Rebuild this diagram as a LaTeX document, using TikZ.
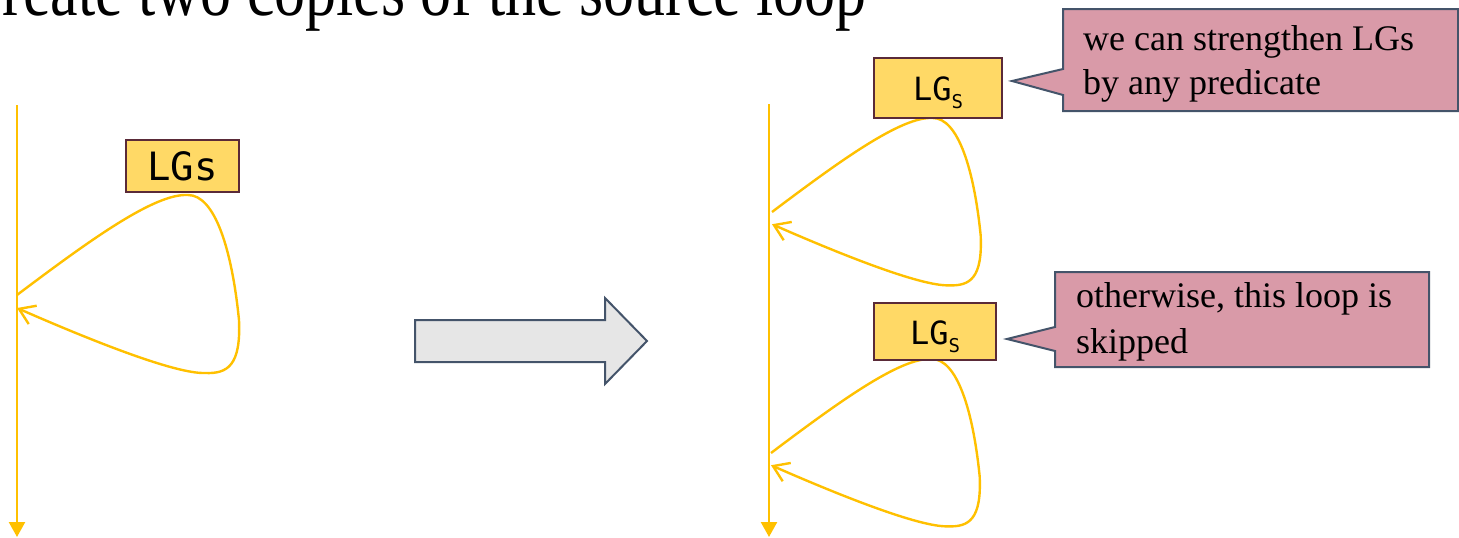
\documentclass[tikz,border=0pt]{standalone}
\usepackage{fontspec}
\setmainfont{Liberation Serif}
\newfontfamily\guardfont{DejaVu Sans Mono}
\usetikzlibrary{arrows.meta}

\definecolor{flowgold}{HTML}{FFC000}
\definecolor{guardfill}{HTML}{FFD966}
\definecolor{guardedge}{HTML}{5A2A38}
\definecolor{notefill}{HTML}{D99AA8}
\definecolor{noteedge}{HTML}{44546A}
\definecolor{shiftfill}{HTML}{E6E6E6}

\tikzset{
  flow/.style={draw=flowgold, line width=2.4pt},
  guard/.style={draw=guardedge, line width=2.4pt, fill=guardfill, inner sep=0pt},
  note/.style={draw=noteedge, line width=2pt, fill=notefill, line join=miter},
  notetext/.style={anchor=north west, inner sep=0pt, align=left},
  shiftarrow/.style={draw=noteedge, line width=2pt, fill=shiftfill, line join=miter},
  % a back edge leaving the control-flow line and returning to it
  backedge/.pic={
    \draw[flow, -{Straight Barb[length=15pt,width=20pt]}]
      (0,0) .. controls (73,-55) and (138,-102) .. (171,-100)
            .. controls (198,-100) and (215,-45) .. (222,25)
            .. controls (224,70) and (211,79) .. (188,78)
            .. controls (158,79) and (73,45) .. (0,13);
  }
}

\begin{document}
\begin{tikzpicture}[x=1pt, y=-1pt]
\useasboundingbox (0,0) rectangle (1459,538);
\clip (0,0) rectangle (1459,538);

% heading
\node[anchor=base east, inner sep=0pt, font=\fontsize{62}{62}\selectfont]
  (title) at (867,16) {\scalebox{1}[1.2]{Create two copies of the source loop}};

% source loop
\coordinate (ltop) at (17,105);
\coordinate (lbot) at (17,537);
\draw[flow, -{Triangle[length=15pt,width=16pt]}] (ltop) -- (lbot);
\pic at (17,295) {backedge};
\node[guard, minimum width=113pt, minimum height=52pt,
      font=\guardfont\fontsize{39}{39}\selectfont] (lgleft) at (182.5,166) {LGs};

% transformation arrow
\draw[shiftarrow] (415,320) -- (605,320) -- (605,298) -- (647,341)
  -- (605,384) -- (605,362) -- (415,362) -- cycle;

% two copies of the loop
\coordinate (rtop) at (769,104);
\coordinate (rbot) at (769,537);
\draw[flow, -{Triangle[length=15pt,width=16pt]}] (rtop) -- (rbot);
\pic[scale=0.94] at (772,212) {backedge};
\pic[scale=0.94] at (771,453) {backedge};

\node[guard, minimum width=128pt, minimum height=60pt, text height=25pt, text depth=0pt,
      font=\guardfont\fontsize{32}{32}\selectfont] (lgtop) at (938,88)
  {LG\raisebox{-8pt}{\fontsize{19}{19}\selectfont S}};
\node[guard, minimum width=122pt, minimum height=57pt, text height=25pt, text depth=0pt,
      font=\guardfont\fontsize{32}{32}\selectfont] (lgbot) at (935,331.5)
  {LG\raisebox{-8pt}{\fontsize{19}{19}\selectfont S}};

% callouts
\draw[note] (1063,9) -- (1458,9) -- (1458,111) -- (1063,111) -- (1063,95)
  -- (1012,81) -- (1063,69) -- cycle;
\node[notetext, font=\fontsize{36}{44}\selectfont] (note1) at (1083,25)
  {we can strengthen LGs\\by any predicate};

\draw[note] (1055,272) -- (1429,272) -- (1429,367) -- (1055,367) -- (1055,351)
  -- (1007,339) -- (1055,327) -- cycle;
\node[notetext, font=\fontsize{36}{46}\selectfont] (note2) at (1076,282)
  {otherwise, this loop is\\skipped};
\end{tikzpicture}
\end{document}
